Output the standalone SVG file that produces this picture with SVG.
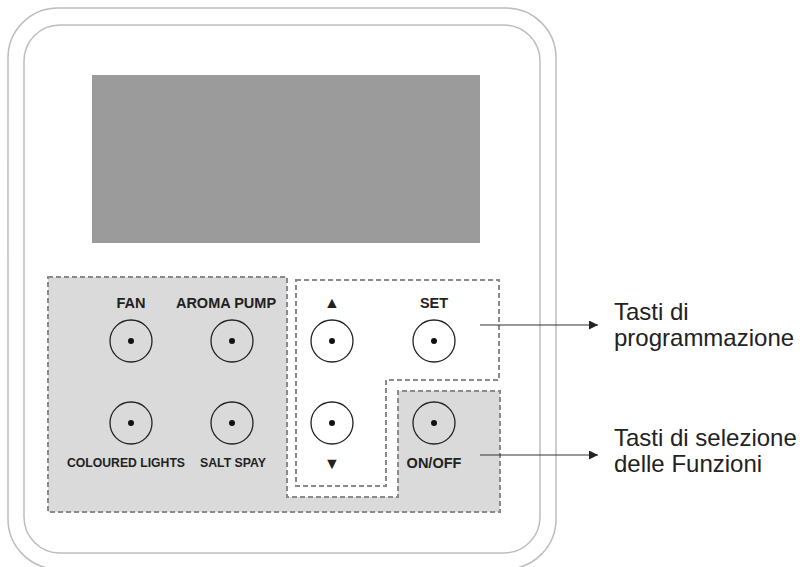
<svg xmlns="http://www.w3.org/2000/svg" width="800" height="567" viewBox="0 0 800 567">
<defs>
<style>
.frame{fill:none;stroke:#bdbdbd;stroke-width:1.5}
.dash{stroke:#8a8a8a;stroke-width:2;stroke-dasharray:5 3}
.btn{fill:none;stroke:#222;stroke-width:1.3}
.dot{fill:#111}
.lbl{font-family:"Liberation Sans",Arial,sans-serif;font-weight:bold;font-size:13.5px;fill:#222;text-anchor:middle}
.big{font-size:14.5px}
.tri{font-size:16px}
.note{font-family:"Liberation Sans",Arial,sans-serif;font-size:24px;fill:#222}
.conn{stroke:#333;stroke-width:1.2;fill:none}
</style>
<marker id="arr" viewBox="0 0 10 10" refX="10" refY="5" markerWidth="9" markerHeight="9" markerUnits="userSpaceOnUse" orient="auto">
<path d="M0,0 L10,5 L0,10 Z" fill="#222"/>
</marker>
<g id="button">
<circle class="btn" r="21"/>
<circle class="dot" r="3"/>
</g>
</defs>
<rect width="800" height="567" fill="#fff"/>
<g id="housing">
<rect class="frame" x="8" y="8" width="548" height="561" rx="50"/>
<rect class="frame" x="24" y="25" width="516" height="528" rx="36"/>
</g>
<g id="display">
<rect x="92" y="75" width="388" height="168" fill="#9b9b9b"/>
</g>
<g id="function-keys">
<path class="dash" fill="#dadada" d="M48,277 H287 V497 H398 V391 H500 V512 H48 Z"/>
</g>
<g id="programming-keys">
<path class="dash" fill="#fff" d="M296,280 H499 V380 H386 V486 H296 Z"/>
</g>
<g id="btn-fan">
<text class="lbl big" x="131" y="308">FAN</text>
<use href="#button" x="131" y="341"/>
</g>
<g id="btn-aroma">
<text class="lbl big" x="226" y="308">AROMA PUMP</text>
<use href="#button" x="232" y="341"/>
</g>
<g id="btn-lights">
<use href="#button" x="131" y="423"/>
<text class="lbl" x="126" y="467" textLength="118" lengthAdjust="spacingAndGlyphs">COLOURED LIGHTS</text>
</g>
<g id="btn-salt">
<use href="#button" x="232" y="423"/>
<text class="lbl" x="233" y="467" textLength="66" lengthAdjust="spacingAndGlyphs">SALT SPAY</text>
</g>
<g id="btn-up">
<text class="lbl tri" x="332" y="308">▲</text>
<use href="#button" x="332" y="341"/>
</g>
<g id="btn-set">
<text class="lbl big" x="434" y="308">SET</text>
<use href="#button" x="434" y="341"/>
</g>
<g id="btn-down">
<use href="#button" x="332" y="423"/>
<text class="lbl tri" x="332" y="469">▼</text>
</g>
<g id="btn-onoff">
<use href="#button" x="434" y="423"/>
<text class="lbl big" x="434" y="468">ON/OFF</text>
</g>
<g id="connectors">
<line class="conn" x1="480" y1="325" x2="598" y2="325" marker-end="url(#arr)"/>
<line class="conn" x1="480" y1="455" x2="598" y2="455" marker-end="url(#arr)"/>
</g>
<g id="label-programming">
<text class="note" x="614" y="320">Tasti di</text>
<text class="note" x="614" y="346">programmazione</text>
</g>
<g id="label-functions">
<text class="note" x="614" y="446">Tasti di selezione</text>
<text class="note" x="614" y="472">delle Funzioni</text>
</g>
</svg>
